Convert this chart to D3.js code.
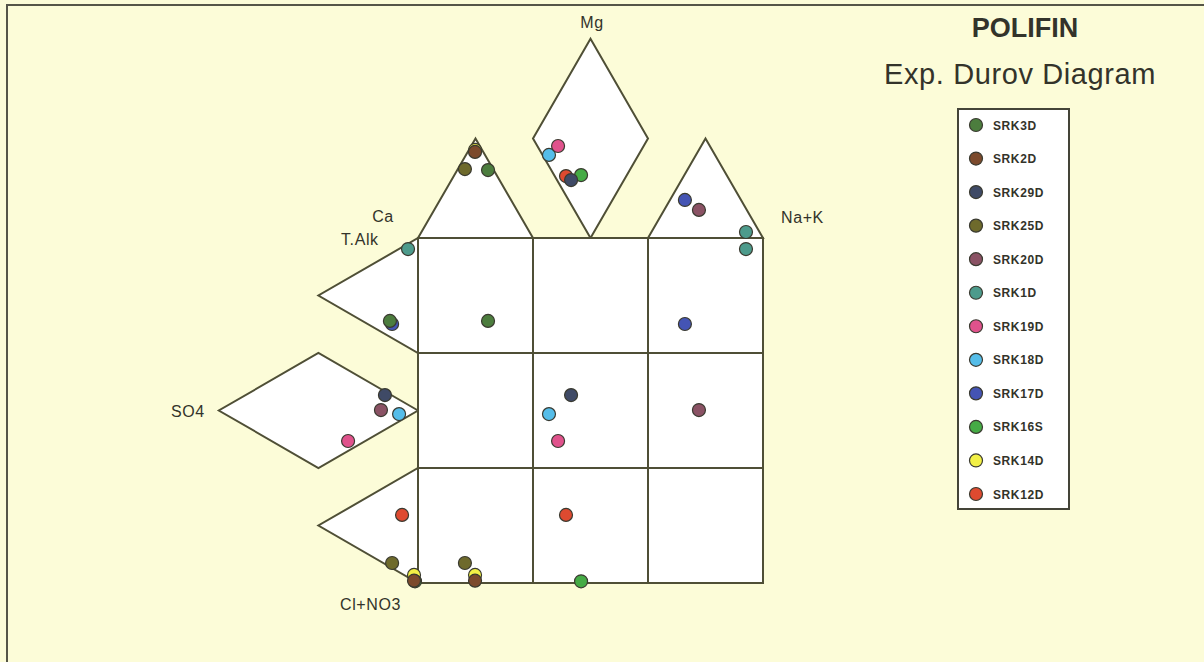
<!DOCTYPE html>
<html lang="en">

<head>
    <meta charset="utf-8">
    <title>Exp. Durov Diagram</title>
    <script src="https://d3js.org/d3.v7.min.js"></script>
    <style>
        body { margin: 0; background: #fcfcd8; }
        text { font-family: "Liberation Sans", Arial, sans-serif; fill: #33332a; }
    </style>
</head>

<body>
    <script type="text/javascript">

        var w = 1204;
        var h = 662;

        // samples, in legend order
        var samples = ["SRK3D", "SRK2D", "SRK29D", "SRK25D", "SRK20D", "SRK1D",
                       "SRK19D", "SRK18D", "SRK17D", "SRK16S", "SRK14D", "SRK12D"];
        var colors = ["#4c7d3e", "#7c4a2c", "#3f4a66", "#6e6a2c", "#8a5264", "#4d9b8c",
                      "#e0528c", "#55bde9", "#4454b4", "#45ab45", "#f2f046", "#de4a30"];

        // cations (meq %)
        var ca = [52.5, 53.6, 43.9, 62.3, 20.8, 5.9, 41.0, 47.2, 24.4, 38.3, 53.1, 45.1];
        var mg = [34.1, 43.2, 29.1, 34.6, 14.1, 3.0, 46.2, 41.7, 19.1, 31.6, 44.2, 31.1];
        var na = [13.4, 3.2, 27.0, 3.1, 65.1, 91.1, 12.8, 11.1, 56.5, 30.1, 2.7, 23.8];

        // anions (meq %)
        var alk = [56.9, 0.0, 48.4, 2.2, 40.9, 92.7, 19.2, 43.7, 56.1, 0.0, 2.5, 25.6];
        var so4 = [14.1, 2.0, 16.6, 13.0, 18.6, 5.0, 35.1, 9.5, 13.0, 1.5, 2.0, 8.0];
        var cl = [29.0, 98.0, 35.0, 84.8, 40.5, 2.3, 45.7, 46.8, 30.9, 98.5, 95.5, 66.4];

        var svg = d3.select("body")
            .append("svg")
            .attr("width", w)
            .attr("height", h);

        // frame
        svg.append("path")
            .attr("d", "M7,662 V5 H1204")
            .attr("fill", "none")
            .attr("stroke", "#555548")
            .attr("stroke-width", 2);

        // grid units: the central square is 3 x 3
        var x = d3.scaleLinear().domain([0, 3]).range([418, 763]);
        var y = d3.scaleLinear().domain([0, 3]).range([238, 583]);
        var th = Math.sqrt(3) / 2;

        var shapes = [
            [[0, 0], [1, 0], [0.5, -th]],
            [[1.5, -2 * th], [1, -th], [1.5, 0], [2, -th]],
            [[2, 0], [3, 0], [2.5, -th]],
            [[0, 0], [0, 1], [-th, 0.5]],
            [[0, 1.5], [-th, 1], [-2 * th, 1.5], [-th, 2]],
            [[0, 2], [0, 3], [-th, 2.5]]
        ];

        var line = d3.line()
            .x(function (d) { return x(d[0]); })
            .y(function (d) { return y(d[1]); })
            .curve(d3.curveLinearClosed);

        var lineColor = "#4f4f36";

        svg.selectAll("path.shape")
            .data(shapes)
            .enter()
            .append("path")
            .attr("class", "shape")
            .attr("d", line)
            .attr("fill", "white")
            .attr("stroke", lineColor)
            .attr("stroke-width", 2)
            .attr("stroke-linejoin", "miter");

        svg.append("rect")
            .attr("x", x(0))
            .attr("y", y(0))
            .attr("width", x(3) - x(0))
            .attr("height", y(3) - y(0))
            .attr("fill", "white")
            .attr("stroke", lineColor)
            .attr("stroke-width", 2);

        [1, 2].forEach(function (k) {
            svg.append("line")
                .attr("x1", x(k)).attr("x2", x(k))
                .attr("y1", y(0)).attr("y2", y(3))
                .attr("stroke", lineColor).attr("stroke-width", 2);
            svg.append("line")
                .attr("x1", x(0)).attr("x2", x(3))
                .attr("y1", y(k)).attr("y2", y(k))
                .attr("stroke", lineColor).attr("stroke-width", 2);
        });

        // expanded Durov projection
        function cation(i) {
            var shift = ca[i] >= 50 ? 0 : (na[i] >= 50 ? 1 : 0.5);
            return [shift + 2 * (na[i] + mg[i] / 2) / 100, -2 * th * mg[i] / 100];
        }
        function anion(i) {
            var shift = alk[i] >= 50 ? 0 : (cl[i] >= 50 ? 1 : 0.5);
            return [-2 * th * so4[i] / 100, shift + 2 * (cl[i] + so4[i] / 2) / 100];
        }

        var pts = [];
        d3.range(samples.length).reverse().forEach(function (i) {
            var c = cation(i), a = anion(i);
            pts.push({ p: c, i: i });
            pts.push({ p: a, i: i });
            pts.push({ p: [c[0], a[1]], i: i });
        });

        svg.selectAll("circle.pt")
            .data(pts)
            .enter()
            .append("circle")
            .attr("class", "pt")
            .attr("cx", function (d) { return x(d.p[0]); })
            .attr("cy", function (d) { return y(d.p[1]); })
            .attr("r", 6.5)
            .attr("fill", function (d) { return colors[d.i]; })
            .attr("stroke", "#3a3a30")
            .attr("stroke-width", 1.2);

        // corner labels
        var labels = [
            { t: "Mg", x: 592, y: 28, a: "middle" },
            { t: "Ca", x: 383, y: 222, a: "middle" },
            { t: "T.Alk", x: 341, y: 245, a: "start" },
            { t: "Na+K", x: 781, y: 223, a: "start" },
            { t: "SO4", x: 171, y: 417, a: "start" },
            { t: "Cl+NO3", x: 340, y: 610, a: "start" }
        ];
        svg.selectAll("text.lab")
            .data(labels)
            .enter()
            .append("text")
            .attr("class", "lab")
            .attr("x", function (d) { return d.x; })
            .attr("y", function (d) { return d.y; })
            .attr("text-anchor", function (d) { return d.a; })
            .attr("font-size", 16)
            .attr("letter-spacing", 0.6)
            .text(function (d) { return d.t; });

        // titles
        svg.append("text")
            .attr("x", 1025).attr("y", 37)
            .attr("text-anchor", "middle")
            .attr("font-size", 27)
            .attr("font-weight", "bold")
            .text("POLIFIN");
        svg.append("text")
            .attr("x", 1020).attr("y", 84)
            .attr("text-anchor", "middle")
            .attr("font-size", 29)
            .attr("letter-spacing", 0.6)
            .text("Exp. Durov Diagram");

        // legend
        var legend = svg.append("g");
        legend.append("rect")
            .attr("x", 958).attr("y", 109)
            .attr("width", 111).attr("height", 400)
            .attr("fill", "white")
            .attr("stroke", "#444438")
            .attr("stroke-width", 2);

        var ly = d3.scalePoint().domain(samples).range([125, 494]);

        var items = legend.selectAll("g.item")
            .data(samples)
            .enter()
            .append("g")
            .attr("class", "item")
            .attr("transform", function (d) { return "translate(976," + ly(d) + ")"; });

        items.append("circle")
            .attr("r", 6.5)
            .attr("fill", function (d, i) { return colors[i]; })
            .attr("stroke", "#3a3a30")
            .attr("stroke-width", 1.2);

        items.append("text")
            .attr("x", 17)
            .attr("y", 4.5)
            .attr("font-size", 12)
            .attr("font-weight", "bold")
            .attr("letter-spacing", 0.6)
            .text(function (d) { return d; });

    </script>
</body>

</html>
